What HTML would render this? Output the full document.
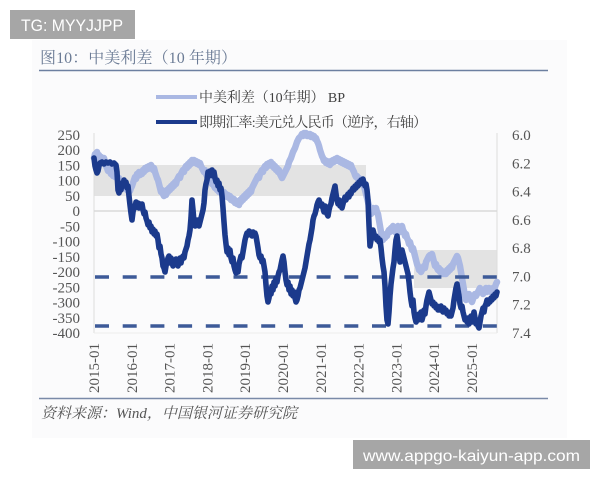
<!DOCTYPE html>
<html><head><meta charset="utf-8"><style>
html,body{margin:0;padding:0;background:#fff;}
svg{display:block;}
</style></head><body>
<svg width="600" height="480" viewBox="0 0 600 480" xmlns="http://www.w3.org/2000/svg">
<rect x="0" y="0" width="600" height="480" fill="#ffffff"/>
<rect x="32" y="40" width="535" height="398" fill="#fbfbfc"/>
<!-- top watermark -->
<rect x="10" y="10" width="125" height="29" fill="#a6a6a6"/>
<text x="21" y="31" font-family="Liberation Sans, sans-serif" font-size="17" fill="#ffffff" textLength="102" lengthAdjust="spacingAndGlyphs">TG: MYYJJPP</text>
<!-- title -->
<text x="40" y="63" font-family="Liberation Serif, 'Noto Serif CJK SC', serif" font-size="16" fill="#6b7b95" textLength="197">图10：中美利差（10 年期）</text>
<line x1="39" y1="70.5" x2="548" y2="70.5" stroke="#6c7fa0" stroke-width="1.6"/>
<!-- legend -->
<line x1="156" y1="97" x2="197" y2="97" stroke="#aab8e3" stroke-width="4"/>
<text x="199" y="102" font-family="Liberation Serif, 'Noto Serif CJK SC', serif" font-size="14" fill="#404040" textLength="146">中美利差（10年期） BP</text>
<line x1="156" y1="122" x2="197" y2="122" stroke="#1b3a8c" stroke-width="4"/>
<text x="199" y="127" font-family="Liberation Serif, 'Noto Serif CJK SC', serif" font-size="14" fill="#404040" textLength="228">即期汇率:美元兑人民币（逆序，右轴）</text>
<!-- bands -->
<rect x="94" y="165" width="272" height="31" fill="#e3e3e3"/>
<rect x="414" y="250" width="83" height="38" fill="#e3e3e3"/>
<!-- axes -->
<line x1="94" y1="133" x2="94" y2="333" stroke="#dcdcdc" stroke-width="1"/>
<line x1="497" y1="133" x2="497" y2="333" stroke="#dcdcdc" stroke-width="1"/>
<line x1="94" y1="333" x2="497" y2="333" stroke="#ececec" stroke-width="1"/>
<line x1="94" y1="211" x2="497" y2="211" stroke="#d9d9d9" stroke-width="1.5"/>
<!-- left labels -->
<g font-family="Liberation Serif, serif" font-size="15" fill="#555" text-anchor="end">
<text x="80" y="140">250</text>
<text x="80" y="155.2">200</text>
<text x="80" y="170.5">150</text>
<text x="80" y="185.7">100</text>
<text x="80" y="200.9">50</text>
<text x="80" y="216.2">0</text>
<text x="80" y="231.4">-50</text>
<text x="80" y="246.6">-100</text>
<text x="80" y="261.8">-150</text>
<text x="80" y="277.1">-200</text>
<text x="80" y="292.3">-250</text>
<text x="80" y="307.5">-300</text>
<text x="80" y="322.8">-350</text>
<text x="80" y="338">-400</text>
</g>
<!-- right labels -->
<g font-family="Liberation Serif, serif" font-size="15" fill="#555">
<text x="512" y="140">6.0</text>
<text x="512" y="168.3">6.2</text>
<text x="512" y="196.6">6.4</text>
<text x="512" y="224.9">6.6</text>
<text x="512" y="253.1">6.8</text>
<text x="512" y="281.4">7.0</text>
<text x="512" y="309.7">7.2</text>
<text x="512" y="338">7.4</text>
</g>
<!-- x labels -->
<g font-family="Liberation Serif, serif" font-size="15" fill="#555">
<text transform="translate(99,393) rotate(-90)">2015-01</text>
<text transform="translate(136.8,393) rotate(-90)">2016-01</text>
<text transform="translate(174.6,393) rotate(-90)">2017-01</text>
<text transform="translate(212.4,393) rotate(-90)">2018-01</text>
<text transform="translate(250.2,393) rotate(-90)">2019-01</text>
<text transform="translate(288,393) rotate(-90)">2020-01</text>
<text transform="translate(325.8,393) rotate(-90)">2021-01</text>
<text transform="translate(363.6,393) rotate(-90)">2022-01</text>
<text transform="translate(401.4,393) rotate(-90)">2023-01</text>
<text transform="translate(439.2,393) rotate(-90)">2024-01</text>
<text transform="translate(477,393) rotate(-90)">2025-01</text>
</g>
<!-- light series -->
<polyline fill="none" stroke="#aab8e3" stroke-width="6.5" stroke-linejoin="round" stroke-linecap="round" points="94,158 95,154 96,156 97,152 98,157 99,155 100,160 101,157 102,163 103,160 104,158 105,162 106,166 107,168 108,171 109,167 110,172 111,174 112,170 113,176 114,174 115,177 116,174 117,178 118,180 119,178 120,183 121,181 122,185 123,183 124,186 125,188 126,185 127,190 128,188 129,192 130,191 131,188 132,186 133,183 134,180 135,177 136,179 137,174 138,176 139,172 140,175 141,172 142,174 143,170 144,172 145,168 146,170 147,167 148,169 149,166 150,168 151,165 152,167 153,170 154,168 155,172 156,175 157,178 158,180 159,184 160,188 161,192 162,190 163,194 164,196 165,193 166,195 167,190 168,192 169,188 170,190 171,186 172,188 173,184 174,186 175,182 176,184 177,180 178,178 179,176 180,178 181,174 182,172 183,170 184,172 185,168 186,166 187,168 188,164 189,166 190,162 191,164 192,160 193,162 194,160 195,163 196,161 197,164 198,162 199,165 200,163 201,166 202,168 203,170 204,172 205,170 206,174 207,176 208,178 209,176 210,180 211,182 212,184 213,182 214,186 215,188 216,186 217,190 218,188 219,192 220,190 221,193 222,191 223,194 224,192 225,196 226,194 227,197 228,195 229,198 230,196 231,200 232,198 233,201 234,199 235,203 236,201 237,204 238,202 239,205 240,200 241,202 242,198 243,200 244,196 245,198 246,194 247,196 248,192 249,194 250,190 251,192 252,188 253,186 254,184 255,182 256,180 257,178 258,176 259,178 260,174 261,172 262,170 263,172 264,168 265,166 266,168 267,164 268,166 269,163 270,165 271,162 272,166 273,164 274,168 275,166 276,170 277,168 278,172 279,170 280,174 281,176 282,178 283,176 284,174 285,172 286,170 287,168 288,166 289,162 290,160 291,158 292,155 293,152 294,150 295,148 296,145 297,142 298,140 299,138 300,137 301,136 302,134 303,136 304,133 305,135 306,133 307,136 308,134 309,136 310,134 311,137 312,135 313,137 314,136 315,139 316,138 317,141 318,143 319,146 320,150 321,153 322,156 323,158 324,161 325,160 326,163 327,161 328,164 329,162 330,165 331,161 332,163 333,160 334,162 335,159 336,161 337,158 338,161 339,159 340,162 341,160 342,163 343,161 344,164 345,162 346,165 347,163 348,166 349,164 350,167 351,165 352,168 353,170 354,172 355,175 356,177 357,176 358,179 359,178 360,181 361,180 362,183 363,182 364,186 365,190 366,194 367,198 368,202 369,206 370,210 371,214 372,212 373,208 374,210 375,212 376,208 377,212 378,214 379,220 380,226 381,232 382,238 383,240 384,236 385,238 386,234 387,236 388,232 389,230 390,232 391,228 392,230 393,226 394,229 395,232 396,228 397,230 398,226 399,229 400,232 401,228 402,226 403,230 404,232 405,236 406,234 407,238 408,240 409,244 410,242 411,246 412,250 413,248 414,252 415,256 416,260 417,264 418,266 419,270 420,268 421,272 422,270 423,268 424,266 425,268 426,262 427,260 428,258 429,256 430,255 431,256 432,254 433,258 434,262 435,266 436,264 437,268 438,270 439,268 440,272 441,270 442,274 443,272 444,274 445,272 446,274 447,270 448,272 449,268 450,270 451,266 452,268 453,264 454,262 455,260 456,258 457,256 458,258 459,262 460,266 461,272 462,278 463,284 464,290 465,296 466,300 467,298 468,296 469,294 470,297 471,300 472,302 473,299 474,296 475,294 476,296 477,294 478,292 479,290 480,288 481,292 482,290 483,294 484,292 485,290 486,288 487,292 488,290 489,288 490,290 491,292 492,290 493,288 494,290 495,287 496,284 497,282"/>
<!-- dashed lines -->
<line x1="95" y1="277" x2="497" y2="277" stroke="#3d5a98" stroke-width="3.5" stroke-dasharray="14 13.7"/>
<line x1="95" y1="326" x2="497" y2="326" stroke="#3d5a98" stroke-width="3.5" stroke-dasharray="14 13.7"/>
<!-- dark series -->
<polyline fill="none" stroke="#1b3a8c" stroke-width="5.6" stroke-linejoin="round" stroke-linecap="round" points="94,158 95,166 96,170 97,173 98,171 99,166 100,163 102,162 104,164 106,162 108,163 110,162 112,164 114,163 116,165 117,172 118,190 119,193 120,186 121,190 122,183 123,186 124,180 125,184 126,182 127,188 128,186 129,196 130,205 131,213 132,220 133,212 134,206 135,208 136,202 137,206 138,203 139,208 140,204 141,207 142,204 143,210 144,214 145,212 146,218 147,221 148,225 149,222 150,228 151,226 152,232 153,229 154,234 155,231 156,236 157,234 158,240 159,248 160,246 161,254 162,258 163,266 164,268 165,272 166,266 167,262 168,258 169,256 170,263 171,258 172,262 173,266 174,261 175,264 176,259 177,262 178,266 179,262 180,258 181,263 182,258 183,256 184,258 185,252 186,249 187,246 188,240 189,236 190,230 191,218 192,200 193,210 194,222 195,226 196,220 197,224 198,220 199,226 200,222 201,218 202,214 203,210 204,203 205,190 206,184 207,180 208,172 209,176 210,171 211,175 212,170 213,176 214,172 215,178 216,182 217,180 218,186 219,183 220,190 221,188 222,196 223,208 224,222 225,235 226,244 227,252 228,248 229,255 230,250 231,258 232,262 233,258 234,266 235,270 236,273 237,268 238,272 239,264 240,260 241,256 242,258 243,252 244,246 245,240 246,236 247,233 248,235 249,231 250,234 251,232 252,236 253,232 254,235 255,233 256,236 257,242 258,248 259,255 260,258 261,256 262,262 263,260 264,266 265,272 266,285 267,296 268,302 269,298 270,290 271,294 272,286 273,290 274,282 275,286 276,278 277,282 278,276 279,272 280,270 281,265 282,260 283,256 284,262 285,272 286,280 287,285 288,282 289,290 290,286 291,294 292,290 293,296 294,292 295,298 296,302 297,300 298,296 299,290 300,288 301,284 302,280 303,276 304,272 305,268 306,262 307,256 308,250 309,244 310,240 311,234 312,228 313,220 314,216 315,214 316,210 317,205 318,202 319,200 320,203 321,206 322,204 323,208 324,212 325,206 326,210 327,214 328,216 329,210 330,206 331,204 332,198 333,194 334,190 335,186 336,194 337,200 338,204 339,200 340,206 341,202 342,208 343,204 344,200 345,197 346,200 347,196 348,194 349,197 350,192 351,194 352,190 353,188 354,190 355,186 356,188 357,184 358,186 359,182 360,184 361,180 362,182 363,179 364,183 365,186 366,184 367,190 368,200 369,225 370,246 371,240 372,232 373,230 374,234 375,238 376,236 377,240 378,238 379,242 380,240 381,248 382,258 383,266 384,272 385,286 386,306 387,320 388,324 389,312 390,296 391,284 392,276 393,268 394,262 395,250 396,240 397,236 398,244 399,254 400,262 401,256 402,250 403,254 404,258 405,262 406,266 407,270 408,274 409,282 410,292 411,300 412,306 413,300 414,312 415,318 416,322 417,316 418,320 419,314 420,318 421,312 422,320 423,316 424,310 425,314 426,306 427,300 428,296 429,292 430,296 431,300 432,304 433,302 434,306 435,304 436,308 437,306 438,310 439,308 440,310 441,306 442,310 443,312 444,308 445,312 446,310 447,314 448,312 449,316 450,314 451,316 452,312 453,308 454,300 455,294 456,288 457,284 458,290 459,296 460,304 461,308 462,306 463,312 464,316 465,320 466,318 467,322 468,318 469,324 470,320 471,316 472,322 473,318 474,312 475,318 476,324 477,320 478,326 479,328 480,322 481,316 482,312 483,308 484,312 485,306 486,304 487,300 488,304 489,300 490,302 491,298 492,300 493,296 494,298 495,294 496,296 497,292"/>
<!-- bottom line & source -->
<line x1="39" y1="398.5" x2="548" y2="398.5" stroke="#7a8aa8" stroke-width="1.6"/>
<text x="41" y="418" font-family="Liberation Serif, 'Noto Serif CJK SC', serif" font-size="15" font-style="italic" fill="#555" textLength="256">资料来源：Wind，中国银河证券研究院</text>
<!-- bottom watermark -->
<rect x="353" y="440" width="237" height="29" fill="#a6a6a6"/>
<text x="363" y="461" font-family="Liberation Sans, sans-serif" font-size="16" fill="#ffffff" textLength="217" lengthAdjust="spacingAndGlyphs">www.appgo-kaiyun-app.com</text>
</svg>
</body></html>
